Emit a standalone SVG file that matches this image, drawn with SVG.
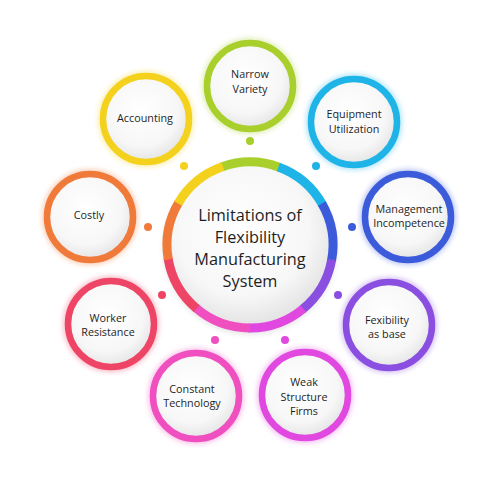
<svg xmlns="http://www.w3.org/2000/svg" width="500" height="500" viewBox="0 0 500 500">
  <defs>
    <radialGradient id="inner" cx="45%" cy="40%" r="60%">
      <stop offset="0" stop-color="#ffffff"/>
      <stop offset="0.7" stop-color="#f7f7f7"/>
      <stop offset="1" stop-color="#e4e4e4"/>
    </radialGradient>
    <filter id="glow" x="-30%" y="-30%" width="160%" height="160%">
      <feGaussianBlur stdDeviation="2.5"/>
    </filter>
    <filter id="shadow" x="-30%" y="-30%" width="160%" height="160%">
      <feGaussianBlur stdDeviation="3"/>
    </filter>
  </defs>
  <style>
    .ring { fill: url(#inner); stroke-width: 6.5; }
    .halo { fill: none; stroke-width: 6; opacity: 0.35; filter: url(#glow); }
    .lbl { font-family: "Open Sans", "Noto Sans", sans-serif; font-size: 10.8px; fill: #1e1e1e; text-anchor: middle; }
    .title { font-family: "Open Sans", "Noto Sans", sans-serif; font-size: 16.3px; fill: #1e1e1e; text-anchor: middle; }
    .seg { fill: none; stroke-width: 9; }
  </style>
  <rect width="500" height="500" fill="#ffffff"/>

  <g id="connectors">
    <circle cx="250" cy="141" r="4" fill="#a8cf2b"/>
    <circle cx="184" cy="166" r="4" fill="#f3d11c"/>
    <circle cx="316" cy="166" r="4" fill="#1eb4e8"/>
    <circle cx="148" cy="227" r="4" fill="#f07a3a"/>
    <circle cx="352" cy="227" r="4" fill="#3b5bdb"/>
    <circle cx="162" cy="295" r="4" fill="#ee4466"/>
    <circle cx="338" cy="295" r="4" fill="#8a4fe0"/>
    <circle cx="215" cy="340" r="4" fill="#f04fc0"/>
    <circle cx="285" cy="340" r="4" fill="#e048e0"/>
  </g>

  <g id="center">
    <circle cx="250" cy="248" r="86" fill="#000" opacity="0.12" filter="url(#shadow)"/>
    <circle cx="250" cy="245" r="80" fill="url(#inner)"/>
    <g transform="translate(250 245)">
      <circle class="seg" r="83" pathLength="360" stroke-dasharray="41 319" transform="rotate(-110)" stroke="#a8cf2b"/>
      <circle class="seg" r="83" pathLength="360" stroke-dasharray="41 319" transform="rotate(-70)" stroke="#1eb4e8"/>
      <circle class="seg" r="83" pathLength="360" stroke-dasharray="41 319" transform="rotate(-30)" stroke="#3b5bdb"/>
      <circle class="seg" r="83" pathLength="360" stroke-dasharray="41 319" transform="rotate(10)" stroke="#8a4fe0"/>
      <circle class="seg" r="83" pathLength="360" stroke-dasharray="41 319" transform="rotate(50)" stroke="#e048e0"/>
      <circle class="seg" r="83" pathLength="360" stroke-dasharray="41 319" transform="rotate(90)" stroke="#f04fc0"/>
      <circle class="seg" r="83" pathLength="360" stroke-dasharray="41 319" transform="rotate(130)" stroke="#ee4466"/>
      <circle class="seg" r="83" pathLength="360" stroke-dasharray="41 319" transform="rotate(170)" stroke="#f07a3a"/>
      <circle class="seg" r="83" pathLength="360" stroke-dasharray="41 319" transform="rotate(210)" stroke="#f3d11c"/>
    </g>
    <text class="title" x="250" y="221">Limitations of</text>
    <text class="title" x="250" y="243">Flexibility</text>
    <text class="title" x="250" y="265">Manufacturing</text>
    <text class="title" x="250" y="287">System</text>
  </g>

  <g id="narrow-variety">
    <circle class="halo" cx="250" cy="86" r="45" stroke="#a8cf2b"/>
    <circle class="ring" cx="250" cy="86" r="43" stroke="#a8cf2b"/>
    <text class="lbl" x="250" y="78">Narrow</text>
    <text class="lbl" x="250" y="93">Variety</text>
  </g>

  <g id="accounting">
    <circle class="halo" cx="146" cy="119" r="45" stroke="#f3d11c"/>
    <circle class="ring" cx="146" cy="119" r="43" stroke="#f3d11c"/>
    <text class="lbl" x="145" y="122">Accounting</text>
  </g>

  <g id="equipment-utilization">
    <circle class="halo" cx="354" cy="122" r="45" stroke="#1eb4e8"/>
    <circle class="ring" cx="354" cy="122" r="43" stroke="#1eb4e8"/>
    <text class="lbl" x="354" y="118">Equipment</text>
    <text class="lbl" x="354" y="133">Utilization</text>
  </g>

  <g id="costly">
    <circle class="halo" cx="90" cy="217" r="45" stroke="#f07a3a"/>
    <circle class="ring" cx="90" cy="217" r="43" stroke="#f07a3a"/>
    <text class="lbl" x="89" y="219">Costly</text>
  </g>

  <g id="management-incompetence">
    <circle class="halo" cx="408" cy="217" r="45" stroke="#3b5bdb"/>
    <circle class="ring" cx="408" cy="217" r="43" stroke="#3b5bdb"/>
    <text class="lbl" x="409" y="213">Management</text>
    <text class="lbl" x="409" y="227">Incompetence</text>
  </g>

  <g id="worker-resistance">
    <circle class="halo" cx="111" cy="324" r="45" stroke="#ee4466"/>
    <circle class="ring" cx="111" cy="324" r="43" stroke="#ee4466"/>
    <text class="lbl" x="108" y="322">Worker</text>
    <text class="lbl" x="108" y="336">Resistance</text>
  </g>

  <g id="fexibility-as-base">
    <circle class="halo" cx="389" cy="325" r="45" stroke="#8a4fe0"/>
    <circle class="ring" cx="389" cy="325" r="43" stroke="#8a4fe0"/>
    <text class="lbl" x="387" y="324">Fexibility</text>
    <text class="lbl" x="387" y="338">as base</text>
  </g>

  <g id="constant-technology">
    <circle class="halo" cx="196" cy="396" r="45" stroke="#f04fc0"/>
    <circle class="ring" cx="196" cy="396" r="43" stroke="#f04fc0"/>
    <text class="lbl" x="192" y="393">Constant</text>
    <text class="lbl" x="192" y="407">Technology</text>
  </g>

  <g id="weak-structure-firms">
    <circle class="halo" cx="305" cy="395" r="45" stroke="#e048e0"/>
    <circle class="ring" cx="305" cy="395" r="43" stroke="#e048e0"/>
    <text class="lbl" x="304" y="386">Weak</text>
    <text class="lbl" x="304" y="401">Structure</text>
    <text class="lbl" x="304" y="415">Firms</text>
  </g>
</svg>
